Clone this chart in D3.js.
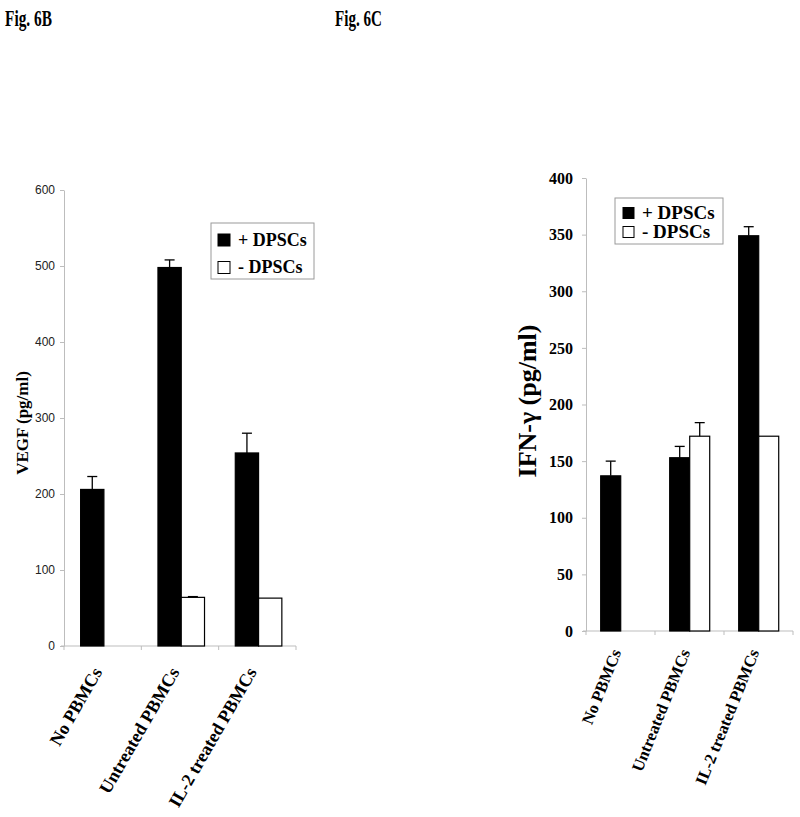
<!DOCTYPE html>
<html>
<head>
<meta charset="utf-8">
<script src="https://cdn.jsdelivr.net/npm/d3@7"></script>
<style>
  html, body { margin: 0; padding: 0; background: #fff; }
  svg { display: block; }
</style>
</head>
<body>
<script>
// ---------- data ----------
const categories = ["No PBMCs", "Untreated PBMCs", "IL-2 treated PBMCs"];
const seriesNames = ["+ DPSCs", "- DPSCs"];

const vegfPlus = [206, 498, 254];
const vegfPlusErr = [17, 10, 26];
const vegfMinus = [null, 64, 63];
const vegfMinusErr = [null, 1, 0];
const vegfTicks = [0, 100, 200, 300, 400, 500, 600];

const ifnPlus = [137, 153, 349];
const ifnPlusErr = [13, 10, 8];
const ifnMinus = [null, 172, 172];
const ifnMinusErr = [null, 12, 0];
const ifnTicks = [0, 50, 100, 150, 200, 250, 300, 350, 400];

const panelTitles = ["Fig. 6B", "Fig. 6C"];
const yTitles = ["VEGF (pg/ml)", "IFN-\u03B3 (pg/ml)"];

// ---------- drawing ----------
const W = 800, H = 817;
const svg = d3.select("body").append("svg").attr("width", W).attr("height", H);
const serif = "'Liberation Serif', 'Times New Roman', serif";
const sans = "'Liberation Sans', Arial, sans-serif";

function drawPanel(cfg) {
  const g = svg.append("g");
  const x = d3.scaleBand().domain(categories).range([cfg.left, cfg.right]).padding(0);
  const y = d3.scaleLinear().domain([0, cfg.ymax]).range([cfg.bottom, cfg.top]);
  const bw = x.bandwidth();
  const x1 = d3.scaleBand().domain(seriesNames).range([bw * cfg.groupStart, bw * cfg.groupEnd]).padding(0);

  // axes
  const yAxis = d3.axisLeft(y).tickValues(cfg.ticks).tickSize(4).tickPadding(cfg.tickPad).tickSizeOuter(0);
  const ya = g.append("g").attr("transform", `translate(${cfg.left},0)`).call(yAxis);
  ya.select(".domain").attr("stroke", "#bdbdbd");
  ya.selectAll(".tick line").attr("stroke", "#bdbdbd");
  ya.selectAll(".tick text")
    .attr("font-family", cfg.tickFont).attr("font-weight", cfg.tickWeight)
    .attr("font-size", cfg.tickSize).attr("fill", cfg.tickColor);

  const xBounds = categories.map(c => x(c)).concat([cfg.right]);
  g.append("line").attr("x1", cfg.left - 3).attr("x2", cfg.right)
    .attr("y1", cfg.bottom).attr("y2", cfg.bottom).attr("stroke", "#bdbdbd");
  g.selectAll(".xt").data(xBounds).enter().append("line")
    .attr("x1", d => d).attr("x2", d => d)
    .attr("y1", cfg.bottom).attr("y2", cfg.bottom + 4).attr("stroke", "#bdbdbd");

  // bars
  const series = [
    { name: seriesNames[0], vals: cfg.plus, errs: cfg.plusErr, fill: "#000" },
    { name: seriesNames[1], vals: cfg.minus, errs: cfg.minusErr, fill: "#fff" }
  ];
  series.forEach(s => {
    const data = categories.map((c, i) => ({ c, v: s.vals[i], e: s.errs[i] })).filter(d => d.v != null);
    g.selectAll(null).data(data).enter().append("rect")
      .attr("x", d => x(d.c) + x1(s.name))
      .attr("y", d => y(d.v))
      .attr("width", x1.bandwidth())
      .attr("height", d => cfg.bottom - y(d.v))
      .attr("fill", s.fill)
      .attr("stroke", "#000").attr("stroke-width", 1.2);
    const eb = data.filter(d => d.e > 0);
    g.selectAll(null).data(eb).enter().append("line")
      .attr("x1", d => x(d.c) + x1(s.name) + x1.bandwidth() / 2)
      .attr("x2", d => x(d.c) + x1(s.name) + x1.bandwidth() / 2)
      .attr("y1", d => y(d.v)).attr("y2", d => y(d.v + d.e))
      .attr("stroke", "#000").attr("stroke-width", 1.3);
    g.selectAll(null).data(eb).enter().append("line")
      .attr("x1", d => x(d.c) + x1(s.name) + x1.bandwidth() / 2 - 5)
      .attr("x2", d => x(d.c) + x1(s.name) + x1.bandwidth() / 2 + 5)
      .attr("y1", d => y(d.v + d.e)).attr("y2", d => y(d.v + d.e))
      .attr("stroke", "#000").attr("stroke-width", 1.3);
  });

  // category labels
  categories.forEach(c => {
    g.append("text")
      .attr("transform", `translate(${x(c) + bw / 2 + cfg.labDx},${cfg.bottom + cfg.labDy}) rotate(${cfg.labAngle})`)
      .attr("text-anchor", "end")
      .attr("font-family", serif).attr("font-weight", "bold")
      .attr("font-size", cfg.labSize).attr("fill", "#000")
      .text(c);
  });

  // y title
  g.append("text")
    .attr("transform", `translate(${cfg.ytX},${cfg.ytY}) rotate(-90)`)
    .attr("text-anchor", "middle")
    .attr("font-family", serif).attr("font-weight", "bold")
    .attr("font-size", cfg.ytSize).attr("fill", "#000")
    .text(cfg.yTitle);

  // legend
  const L = cfg.legend;
  g.append("rect").attr("x", L.x).attr("y", L.y).attr("width", L.w).attr("height", L.h)
    .attr("fill", "#fff").attr("stroke", "#9a9a9a").attr("stroke-width", 1);
  series.forEach((s, i) => {
    g.append("rect").attr("x", L.sx).attr("y", L.sy + i * L.dy)
      .attr("width", L.ss).attr("height", L.ss)
      .attr("fill", s.fill).attr("stroke", "#000").attr("stroke-width", 1);
    g.append("text").attr("x", L.tx).attr("y", L.ty + i * L.dy)
      .attr("font-family", serif).attr("font-weight", "bold")
      .attr("font-size", L.fs).attr("fill", "#000")
      .text(s.name);
  });

  // panel title
  svg.append("text").attr("x", cfg.titleX).attr("y", 26)
    .attr("font-family", serif).attr("font-weight", "bold").attr("font-size", 24)
    .attr("textLength", 47).attr("lengthAdjust", "spacingAndGlyphs")
    .text(cfg.title);
}

drawPanel({
  left: 64, right: 296, top: 190, bottom: 646, ymax: 600, ticks: vegfTicks,
  groupStart: 0.215, groupEnd: 0.817,
  plus: vegfPlus, plusErr: vegfPlusErr, minus: vegfMinus, minusErr: vegfMinusErr,
  tickFont: sans, tickWeight: "normal", tickSize: 12, tickColor: "#222", tickPad: 5,
  labDx: 0, labDy: 26, labAngle: -60, labSize: 18,
  yTitle: yTitles[0], ytX: 28, ytY: 423, ytSize: 17,
  legend: { x: 211, y: 223, w: 103, h: 56, sx: 218, sy: 234, ss: 12, dy: 27.5, tx: 238, ty: 245.5, fs: 18 },
  title: panelTitles[0], titleX: 5
});

drawPanel({
  left: 586, right: 793, top: 178, bottom: 631, ymax: 400, ticks: ifnTicks,
  groupStart: 0.213, groupEnd: 0.793,
  plus: ifnPlus, plusErr: ifnPlusErr, minus: ifnMinus, minusErr: ifnMinusErr,
  tickFont: serif, tickWeight: "bold", tickSize: 16, tickColor: "#000", tickPad: 9,
  labDx: 1, labDy: 21, labAngle: -68, labSize: 16.5,
  yTitle: yTitles[1], ytX: 536, ytY: 401, ytSize: 26,
  legend: { x: 615, y: 198, w: 108, h: 46, sx: 623, sy: 207.5, ss: 11, dy: 19, tx: 642, ty: 219, fs: 19 },
  title: panelTitles[1], titleX: 335
});
</script>
</body>
</html>
